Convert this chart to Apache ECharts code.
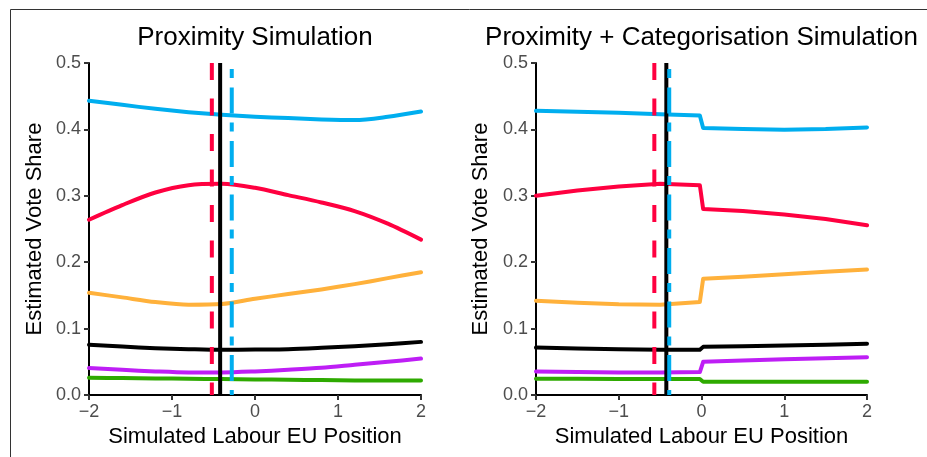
<!DOCTYPE html>
<html>
<head>
<meta charset="utf-8">
<script src="https://cdn.jsdelivr.net/npm/echarts@6/dist/echarts.min.js"></script>
<style>
  html, body { margin: 0; padding: 0; background: #ffffff; }
  #chart { width: 927px; height: 457px; }
</style>
</head>
<body>
<div id="chart"></div>
<script>
// Simulated Labour EU position (x) for each panel
const xProx = [-2, -1.6, -1.2, -0.8, -0.4, 0, 0.4, 0.8, 1.2, 1.6, 2];
const xCat  = [-2, -1.5, -1, -0.5, -0.02, 0.02, 0.5, 1, 1.5, 2];

// Estimated vote share, proximity simulation
const proxBlue   = [0.443, 0.437, 0.431, 0.426, 0.422, 0.419, 0.417, 0.415, 0.414, 0.419, 0.427];
const proxRed    = [0.264, 0.286, 0.305, 0.316, 0.318, 0.312, 0.301, 0.290, 0.277, 0.258, 0.234];
const proxOrange = [0.154, 0.147, 0.140, 0.136, 0.137, 0.145, 0.152, 0.159, 0.167, 0.176, 0.185];
const proxBlack  = [0.0757, 0.073, 0.0705, 0.069, 0.068, 0.0685, 0.069, 0.071, 0.0735, 0.0765, 0.080];
const proxPurple = [0.0405, 0.038, 0.0355, 0.034, 0.034, 0.0355, 0.038, 0.041, 0.0455, 0.050, 0.0548];
const proxGreen  = [0.026, 0.0255, 0.025, 0.0245, 0.024, 0.0235, 0.023, 0.0225, 0.022, 0.0218, 0.022];

// Estimated vote share, proximity + categorisation simulation
const catBlue   = [0.428, 0.4265, 0.425, 0.423, 0.421, 0.402, 0.4005, 0.3995, 0.4005, 0.403];
const catRed    = [0.300, 0.308, 0.314, 0.318, 0.316, 0.280, 0.277, 0.272, 0.265, 0.2555];
const catOrange = [0.142, 0.139, 0.1365, 0.136, 0.140, 0.175, 0.178, 0.182, 0.1855, 0.189];
const catBlack  = [0.0715, 0.070, 0.069, 0.068, 0.068, 0.0725, 0.0735, 0.0745, 0.0757, 0.0773];
const catPurple = [0.0355, 0.0345, 0.034, 0.034, 0.0345, 0.050, 0.052, 0.054, 0.0555, 0.057];
const catGreen  = [0.0245, 0.0243, 0.0242, 0.0241, 0.024, 0.020, 0.020, 0.020, 0.020, 0.020];

// Reference positions (vertical lines): red dashed, black solid, blue dot-dash
const proxMarks = { red: -0.52, black: -0.42, blue: -0.28 };
const catMarks  = { red: -0.57, black: -0.425, blue: -0.39 };

// Axis ticks
const xTicks = [-2, -1, 0, 1, 2];
const yTicks = [0.0, 0.1, 0.2, 0.3, 0.4, 0.5];

const titles = ['Proximity Simulation', 'Proximity + Categorisation Simulation'];
const xName = 'Simulated Labour EU Position';
const yName = 'Estimated Vote Share';

const COLORS = {
  blue: '#00AEEF', red: '#FF0040', orange: '#FFB13B',
  black: '#000000', purple: '#BE1EF5', green: '#2EAA00'
};
const FONT = '"Liberation Sans", Arial, Helvetica, sans-serif';

const grids = [
  { left: 89, top: 63, width: 332, height: 332 },
  { left: 536, top: 63, width: 331, height: 332 }
];

function pairs(xs, ys) { return xs.map((x, i) => [x, ys[i]]); }

function curve(idx, xs, ys, color, smooth) {
  return {
    type: 'line', xAxisIndex: idx, yAxisIndex: idx,
    data: pairs(xs, ys), showSymbol: false,
    smooth: smooth ? 0.3 : false,
    lineStyle: { color: color, width: 4, cap: 'round', join: 'round' },
    silent: true, z: 2
  };
}

function vline(idx, x, color, dash, offset) {
  return {
    type: 'line', xAxisIndex: idx, yAxisIndex: idx,
    data: [[x, yTicks[yTicks.length - 1]], [x, yTicks[0]]],
    showSymbol: false,
    lineStyle: { color: color, width: 4, type: dash, dashOffset: offset, cap: 'butt' },
    silent: true, z: 3
  };
}

function xAxis(idx) {
  return {
    type: 'value', gridIndex: idx,
    min: xTicks[0], max: xTicks[xTicks.length - 1], interval: 1,
    axisLine: { show: true, onZero: false, lineStyle: { color: '#000', width: 2 } },
    axisTick: { show: true, length: 5, lineStyle: { color: '#333', width: 2 } },
    splitLine: { show: false },
    axisLabel: {
      margin: 8, color: '#4D4D4D', fontSize: 18, fontFamily: FONT,
      formatter: v => (v < 0 ? '\u2212' + Math.abs(v) : String(v))
    }
  };
}

function yAxis(idx) {
  return {
    type: 'value', gridIndex: idx,
    min: yTicks[0], max: yTicks[yTicks.length - 1], interval: 0.1,
    axisLine: { show: true, onZero: false, lineStyle: { color: '#000', width: 2 } },
    axisTick: { show: true, length: 5, lineStyle: { color: '#333', width: 2 } },
    splitLine: { show: false },
    axisLabel: {
      margin: 8, color: '#4D4D4D', fontSize: 18, fontFamily: FONT,
      formatter: v => v.toFixed(1)
    }
  };
}

const dashRed = [17, 18.5];
const dotDash = [9, 9.5, 26, 9];

const series = [
  curve(0, xProx, proxGreen, COLORS.green, true),
  curve(0, xProx, proxPurple, COLORS.purple, true),
  curve(0, xProx, proxBlack, COLORS.black, true),
  curve(0, xProx, proxOrange, COLORS.orange, true),
  curve(0, xProx, proxRed, COLORS.red, true),
  curve(0, xProx, proxBlue, COLORS.blue, true),
  vline(0, proxMarks.black, COLORS.black, 'solid', 0),
  vline(0, proxMarks.red, COLORS.red, dashRed, 0),
  vline(0, proxMarks.blue, COLORS.blue, dotDash, 47.5),

  curve(1, xCat, catGreen, COLORS.green, false),
  curve(1, xCat, catPurple, COLORS.purple, false),
  curve(1, xCat, catBlack, COLORS.black, false),
  curve(1, xCat, catOrange, COLORS.orange, false),
  curve(1, xCat, catRed, COLORS.red, false),
  curve(1, xCat, catBlue, COLORS.blue, false),
  vline(1, catMarks.black, COLORS.black, 'solid', 0),
  vline(1, catMarks.red, COLORS.red, dashRed, 0),
  vline(1, catMarks.blue, COLORS.blue, dotDash, 47.5)
];

function label(text, x, y, size, rotate) {
  return {
    type: 'text', x: x, y: y, rotation: rotate ? Math.PI / 2 : 0,
    style: {
      text: text, fill: '#000', fontSize: size, fontFamily: FONT,
      align: 'center', verticalAlign: 'middle'
    },
    silent: true
  };
}

const graphic = [
  {
    type: 'rect', shape: { x: 10.5, y: 9.5, width: 1000, height: 1000 },
    style: { fill: 'none', stroke: '#333', lineWidth: 1 }, silent: true, z: -1
  },
  label(titles[0], grids[0].left + grids[0].width / 2, 37.5, 26, false),
  label(titles[1], grids[1].left + grids[1].width / 2, 37.5, 26, false),
  label(xName, grids[0].left + grids[0].width / 2, 437, 22, false),
  label(xName, grids[1].left + grids[1].width / 2, 437, 22, false),
  label(yName, 35, grids[0].top + grids[0].height / 2, 22, true),
  label(yName, 481, grids[1].top + grids[1].height / 2, 22, true)
];

const chart = echarts.init(document.getElementById('chart'), null, { renderer: 'canvas' });
chart.setOption({
  animation: false,
  backgroundColor: '#ffffff',
  grid: grids,
  xAxis: [xAxis(0), xAxis(1)],
  yAxis: [yAxis(0), yAxis(1)],
  series: series,
  graphic: graphic
});
</script>
</body>
</html>
